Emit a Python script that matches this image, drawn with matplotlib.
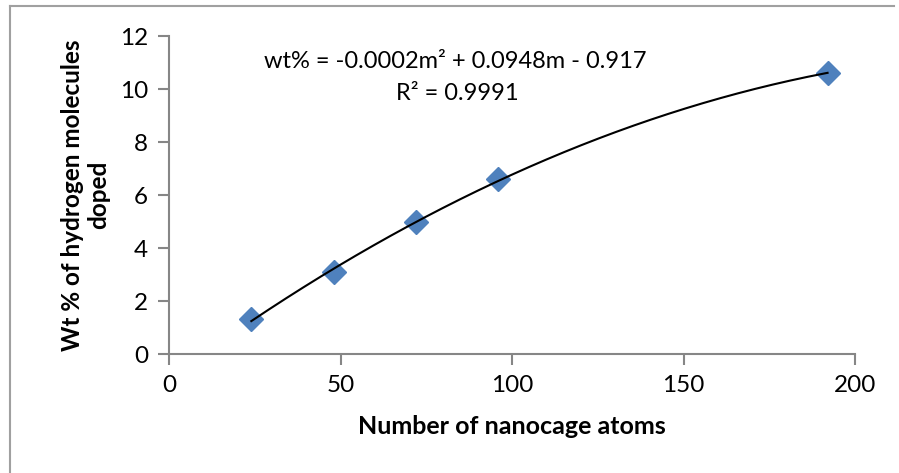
import numpy as np
import matplotlib
matplotlib.use("Agg")
import matplotlib.pyplot as plt
from matplotlib.lines import Line2D

plt.rcParams['font.family'] = ['Lato', 'DejaVu Sans']

# Hydrogen uptake vs. nanocage size
atoms = [24, 48, 72, 96, 192]
wt_pct = [1.32, 3.08, 4.98, 6.60, 10.60]
x_ticks = [0, 50, 100, 150, 200]
y_ticks = [0, 2, 4, 6, 8, 10, 12]
equation = "wt% = -0.0002m\u00b2 + 0.0948m - 0.917"
r_squared = "R\u00b2 = 0.9991"

fig = plt.figure(figsize=(8.99, 4.73), dpi=100)
ax = fig.add_axes([169 / 899, 1 - 354 / 473, (855 - 169) / 899, (354 - 36) / 473])

axis_grey = "#868686"

# quadratic trendline through the measured points
coef = np.polyfit(atoms, wt_pct, 2)
xs = np.linspace(min(atoms), max(atoms), 200)
ax.plot(xs, np.polyval(coef, xs), color="black", lw=1.5, zorder=3)

ax.plot(atoms, wt_pct, linestyle="none", marker="D", markersize=12,
        color="#4F81BD", markeredgecolor="#4F81BD", zorder=2)

ax.set_xlim(0, 200)
ax.set_ylim(0, 12)
ax.set_xticks(x_ticks)
ax.set_yticks(y_ticks)
ax.tick_params(axis="both", direction="out", length=8, width=1.5,
               color=axis_grey, labelsize=17.5, labelcolor="black")
ax.tick_params(axis="x", pad=7)
ax.tick_params(axis="y", pad=7)

for side in ("top", "right"):
    ax.spines[side].set_visible(False)
for side in ("left", "bottom"):
    ax.spines[side].set_color(axis_grey)
    ax.spines[side].set_linewidth(1.5)

ax.set_xlabel("Number of nanocage atoms", fontsize=18, fontweight="bold", labelpad=14)
ax.set_ylabel("Wt % of hydrogen molecules\ndoped", fontsize=17.5, fontweight="bold",
              labelpad=7, linespacing=1.15)

fig.text(455 / 899, 1 - 61 / 473, equation, ha="center", va="center", fontsize=17)
fig.text(457 / 899, 1 - 93 / 473, r_squared, ha="center", va="center", fontsize=17)

# chart-area border
fig.add_artist(Line2D([10 / 899, 10 / 899], [0, 1 - 6 / 473], transform=fig.transFigure,
                      color="#A0A0A0", lw=1.5))
fig.add_artist(Line2D([10 / 899, 894 / 899], [1 - 6 / 473, 1 - 6 / 473],
                      transform=fig.transFigure, color="#A0A0A0", lw=1.5))

fig.savefig("out.png", dpi=100)
